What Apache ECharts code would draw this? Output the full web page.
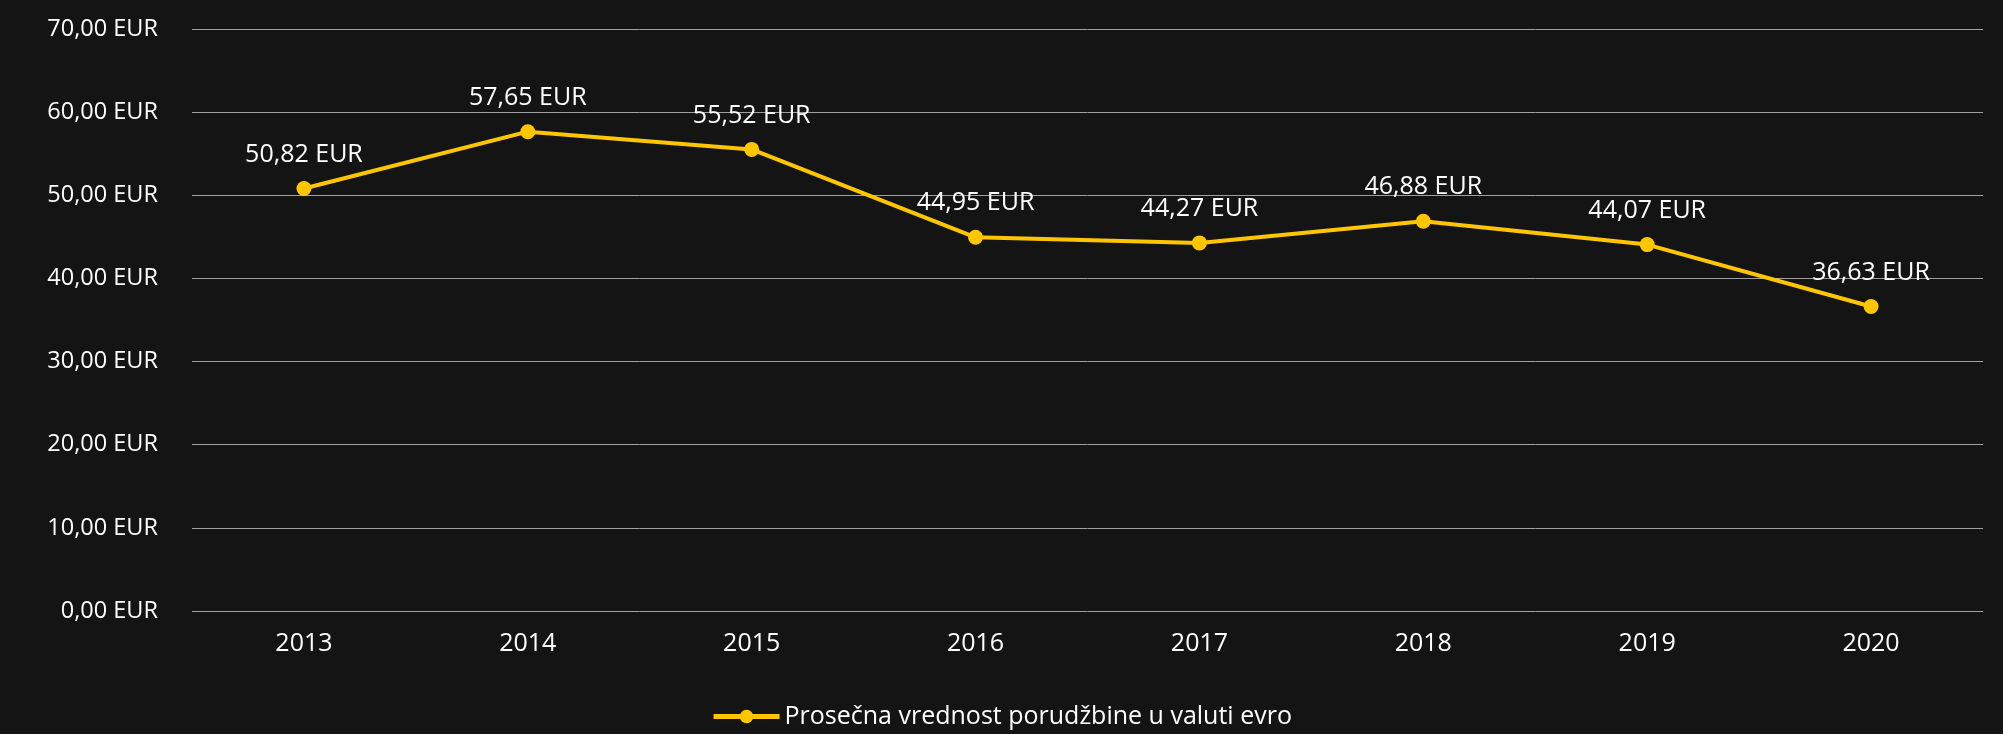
<!DOCTYPE html>
<html>
<head>
<meta charset="utf-8">
<script src="https://cdn.jsdelivr.net/npm/echarts@6/dist/echarts.min.js"></script>
<style>
  html, body { margin: 0; padding: 0; background: #141414; }
  #chart { width: 2003px; height: 734px; }
</style>
</head>
<body>
<div id="chart"></div>
<script>
var years = ["2013", "2014", "2015", "2016", "2017", "2018", "2019", "2020"];
var avgOrder = [50.82, 57.65, 55.52, 44.95, 44.27, 46.88, 44.07, 36.63];
var seriesName = "Prosečna vrednost porudžbine u valuti evro";

function eur(v) {
  return v.toFixed(2).replace(".", ",") + " EUR";
}

var chart = echarts.init(document.getElementById("chart"));
chart.setOption({
  backgroundColor: "#141414",
  textStyle: { fontFamily: "Open Sans" },
  grid: {
    left: 192,
    right: 20,
    top: 29,
    bottom: 123
  },
  legend: {
    bottom: 0,
    left: "center",
    itemWidth: 66,
    itemHeight: 17,
    itemGap: 10,
    lineStyle: { width: 5 },
    textStyle: { color: "#fff", fontSize: 25, fontFamily: "Open Sans" },
    data: [seriesName]
  },
  xAxis: {
    type: "category",
    data: years,
    axisLine: { show: false },
    axisTick: { show: false },
    axisLabel: { color: "#fff", fontSize: 25, margin: 20 }
  },
  yAxis: {
    type: "value",
    min: 0,
    max: 70,
    interval: 10,
    axisLine: { show: false },
    axisTick: { show: false },
    splitLine: { lineStyle: { color: "#a0a0a0", width: 1 } },
    axisLabel: {
      color: "#fff",
      fontSize: 23.5,
      margin: 34,
      formatter: function (v) { return eur(v); }
    }
  },
  series: [
    {
      name: seriesName,
      type: "line",
      data: avgOrder,
      color: "#ffc600",
      symbol: "circle",
      symbolSize: 15,
      lineStyle: { width: 4, color: "#ffc600" },
      itemStyle: { color: "#ffc600" },
      label: {
        show: true,
        position: "top",
        distance: 14,
        color: "#fff",
        fontSize: 25,
        formatter: function (p) { return eur(p.value); }
      }
    }
  ]
});
</script>
</body>
</html>
